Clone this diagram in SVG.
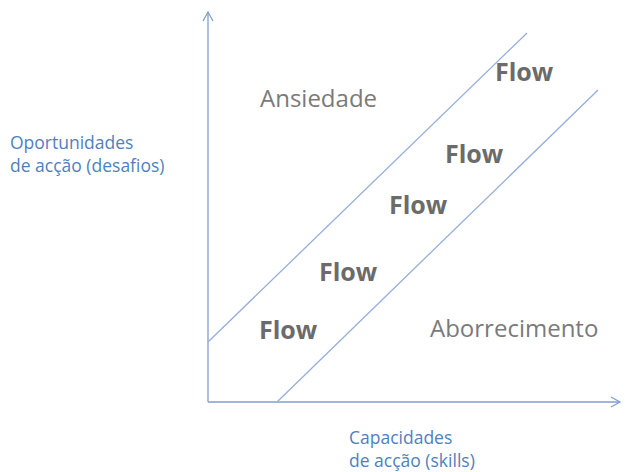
<svg xmlns="http://www.w3.org/2000/svg" width="625" height="472" viewBox="0 0 625 472">
<style>
.ax{stroke:#7f9fcf;stroke-width:1.3;fill:none}
.ln{stroke:#95aedb;stroke-width:1.3;fill:none}
.lab{font-family:"Open Sans","Liberation Sans",sans-serif;font-size:17.5px;fill:#4f7fc0}
.reg{font-family:"Open Sans","Liberation Sans",sans-serif;font-size:24px;fill:#7a7a7a}
.flow{font-family:"Open Sans","Liberation Sans",sans-serif;font-size:25px;font-weight:bold;fill:#6b6b6b}
</style>
<defs>
<marker id="arr" markerWidth="12" markerHeight="12" refX="10" refY="6" orient="auto" markerUnits="userSpaceOnUse">
<path d="M1,1 L10,6 L1,11" fill="none" stroke="#7f9fcf" stroke-width="1.3"/>
</marker>
</defs>
<g id="connectors">
<line class="ax" x1="208" y1="402" x2="208" y2="12" marker-end="url(#arr)"/>
<line class="ax" x1="208" y1="402" x2="620" y2="402" marker-end="url(#arr)"/>
<line class="ln" x1="208" y1="342" x2="527" y2="33"/>
<line class="ln" x1="277" y1="402" x2="598" y2="90"/>
</g>
<g id="yLabel"><text class="lab" x="10" y="149">Oportunidades</text><text class="lab" x="10" y="172">de acção (desafios)</text></g>
<g id="xLabel"><text class="lab" x="349" y="444">Capacidades</text><text class="lab" x="349" y="467">de acção (skills)</text></g>
<g id="ansiedade"><text class="reg" x="260" y="107">Ansiedade</text></g>
<g id="aborrecimento"><text class="reg" x="430" y="337">Aborrecimento</text></g>
<g id="flow1"><text class="flow" x="495" y="81">Flow</text></g>
<g id="flow2"><text class="flow" x="445" y="163">Flow</text></g>
<g id="flow3"><text class="flow" x="389" y="214">Flow</text></g>
<g id="flow4"><text class="flow" x="319" y="281">Flow</text></g>
<g id="flow5"><text class="flow" x="259" y="339">Flow</text></g>
</svg>
